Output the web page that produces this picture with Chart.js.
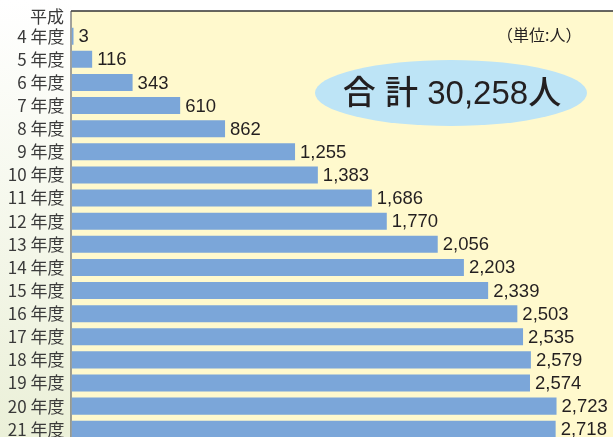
<!DOCTYPE html>
<html><head><meta charset="utf-8">
<script src="https://cdn.jsdelivr.net/npm/chart.js@4/dist/chart.umd.min.js"></script>
<style>html,body{margin:0;padding:0;overflow:hidden;background:#fff}#wrap{position:relative;width:613px;height:458px}canvas{display:block}</style>
</head><body>
<div id="wrap"><canvas id="c"></canvas></div>
<script>
const categories = ["4 年度","5 年度","6 年度","7 年度","8 年度","9 年度","10 年度","11 年度","12 年度","13 年度","14 年度","15 年度","16 年度","17 年度","18 年度","19 年度","20 年度","21 年度"];
const values = [3,116,343,610,862,1255,1383,1686,1770,2056,2203,2339,2503,2535,2579,2574,2723,2718];
const eraLabel = "平成";
const unitLabel = "（単位:人）";
const totalLabel = "合 計 30,258人";

const JP = '"Noto Sans CJK JP","Noto Sans",sans-serif';
const NUM = '"Liberation Sans","Noto Sans CJK JP",sans-serif';

const deco = {
  id: 'deco',
  beforeDraw(chart) {
    const ctx = chart.ctx, a = chart.chartArea, W = chart.width, H = chart.height;
    ctx.save();
    ctx.fillStyle = '#ffffff';
    ctx.fillRect(0, 0, W, H);
    const g = ctx.createLinearGradient(0, 0, 0, 437);
    g.addColorStop(0, '#ffffff');
    g.addColorStop(1, '#ebf0d8');
    ctx.fillStyle = g;
    ctx.fillRect(0, 0, a.left, H);
    ctx.fillStyle = '#fff9cd';
    ctx.fillRect(a.left, 11, W - a.left, H - 11);
    ctx.strokeStyle = '#333';
    ctx.lineWidth = 1.5;
    ctx.beginPath(); ctx.moveTo(a.left - 0.5, 11); ctx.lineTo(W, 11); ctx.stroke();
    ctx.strokeStyle = '#444';
    ctx.lineWidth = 1;
    ctx.beginPath(); ctx.moveTo(a.left - 0.5, 11); ctx.lineTo(a.left - 0.5, H); ctx.stroke();
    ctx.fillStyle = '#bde4f6';
    ctx.beginPath(); ctx.ellipse(451, 93, 136, 33, 0, 0, Math.PI * 2); ctx.fill();
    ctx.restore();
  },
  afterDatasetsDraw(chart) {
    const ctx = chart.ctx, meta = chart.getDatasetMeta(0);
    ctx.save();
    ctx.fillStyle = '#231f20';
    ctx.font = '18.5px ' + NUM;
    ctx.textBaseline = 'middle';
    ctx.textAlign = 'left';
    meta.data.forEach((bar, i) => {
      ctx.fillText(values[i].toLocaleString('en-US'), bar.x + 5, bar.y + 1);
    });
    ctx.font = '17px ' + JP;
    ctx.textAlign = 'right';
    ctx.fillStyle = '#3a3a3a';
    ctx.fillText(eraLabel, 64, 17);
    ctx.fillStyle = '#231f20';
    ctx.font = '16px ' + JP;
    ctx.textAlign = 'left';
    ctx.fillText(unitLabel, 497, 35);
    ctx.font = '500 33px ' + NUM;
    ctx.textAlign = 'center';
    ctx.fillText(totalLabel, 452, 95);
    ctx.restore();
  }
};

new Chart(document.getElementById('c'), {
  type: 'bar',
  data: {
    labels: categories,
    datasets: [{
      data: values,
      backgroundColor: '#7ba6d9',
      borderWidth: 0,
      minBarLength: 2,
      barPercentage: 0.736,
      categoryPercentage: 1.0
    }]
  },
  options: {
    indexAxis: 'y',
    responsive: true,
    maintainAspectRatio: false,
    devicePixelRatio: 1,
    animation: false,
    layout: { padding: { top: 24.65, bottom: 1.5, left: 0, right: 0 } },
    plugins: { legend: { display: false }, tooltip: { enabled: false } },
    scales: {
      x: { display: false, min: 0, max: 3040 },
      y: {
        offset: true,
        grid: { display: false, drawTicks: false },
        border: { display: false },
        ticks: { autoSkip: false, color: '#3a3a3a', font: { family: JP, size: 17 }, padding: 7 },
        afterFit(scale) { scale.width = 71.5; }
      }
    }
  },
  plugins: [deco]
});
</script>
</body></html>
